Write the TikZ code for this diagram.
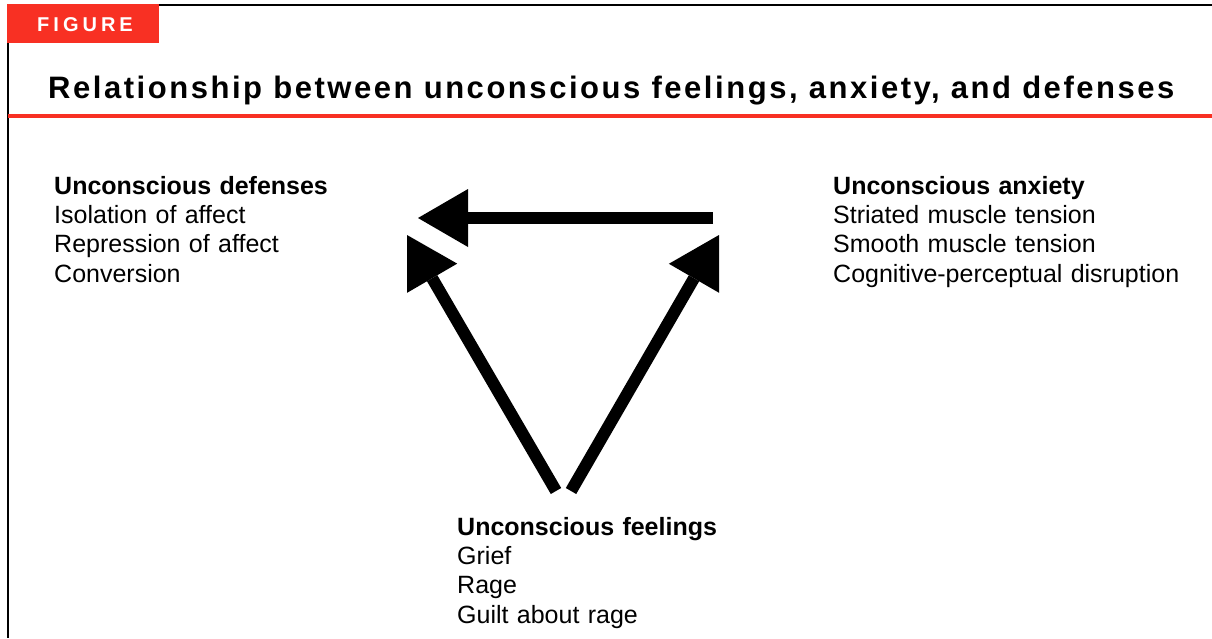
\documentclass[tikz,border=0pt]{standalone}
\usepackage{fontspec}
\setmainfont{Liberation Sans}
\newfontfamily\titlefont[LetterSpace=8.2]{Liberation Sans}
\newfontfamily\figfont[LetterSpace=20]{Liberation Sans}
\usetikzlibrary{arrows.meta}
\definecolor{figred}{RGB}{248,48,35}
\tikzset{
  rule/.style={line width=2.5pt, black},
  redrule/.style={line width=3.5pt, figred},
  block/.style={anchor=base west, inner sep=0pt, text width=420pt, align=left,
    font=\fontsize{25}{29.4}\selectfont},
  bigarrow/.style={line width=12pt, black,
    -{Triangle[length=50pt,width=58pt,line width=0pt]}}
}
\begin{document}
\begin{tikzpicture}[x=1pt,y=-1pt]
\useasboundingbox (0,0) rectangle (1212,638);
% frame
\draw[rule] (8,5) -- (1212,5);
\draw[rule] (8,4) -- (8,638);
\fill[figred] (7,3.5) rectangle (158.5,42.5);
\node[anchor=base, inner sep=0pt, text=white, font=\figfont\bfseries\fontsize{20}{20}\selectfont] (fig) at (85,31) {FIGURE};
\node[anchor=base west, inner sep=0pt, font=\titlefont\bfseries\fontsize{31}{34}\selectfont] (title) at (48,98) {Relationship between unconscious feelings, anxiety, and defenses};
\draw[redrule] (8,116) -- (1212,116);
% text blocks
\node[block] (def) at (54,194) {\textbf{Unconscious defenses}\\Isolation of affect\\Repression of affect\\Conversion};
\node[block] (anx) at (833,194) {\textbf{Unconscious anxiety}\\Striated muscle tension\\Smooth muscle tension\\Cognitive-perceptual disruption};
\node[block] (feel) at (457,535) {\textbf{Unconscious feelings}\\Grief\\Rage\\Guilt about rage};
% arrow end points
\coordinate (anxOut) at (713,218);
\coordinate (defInTop) at (418,218);
\coordinate (feelOutL) at (556,491);
\coordinate (defInLow) at (407,235);
\coordinate (feelOutR) at (571,491);
\coordinate (anxIn) at (719,235);
\draw[bigarrow] (anxOut) -- (defInTop);
\draw[bigarrow] (feelOutL) -- (defInLow);
\draw[bigarrow] (feelOutR) -- (anxIn);
\end{tikzpicture}
\end{document}
